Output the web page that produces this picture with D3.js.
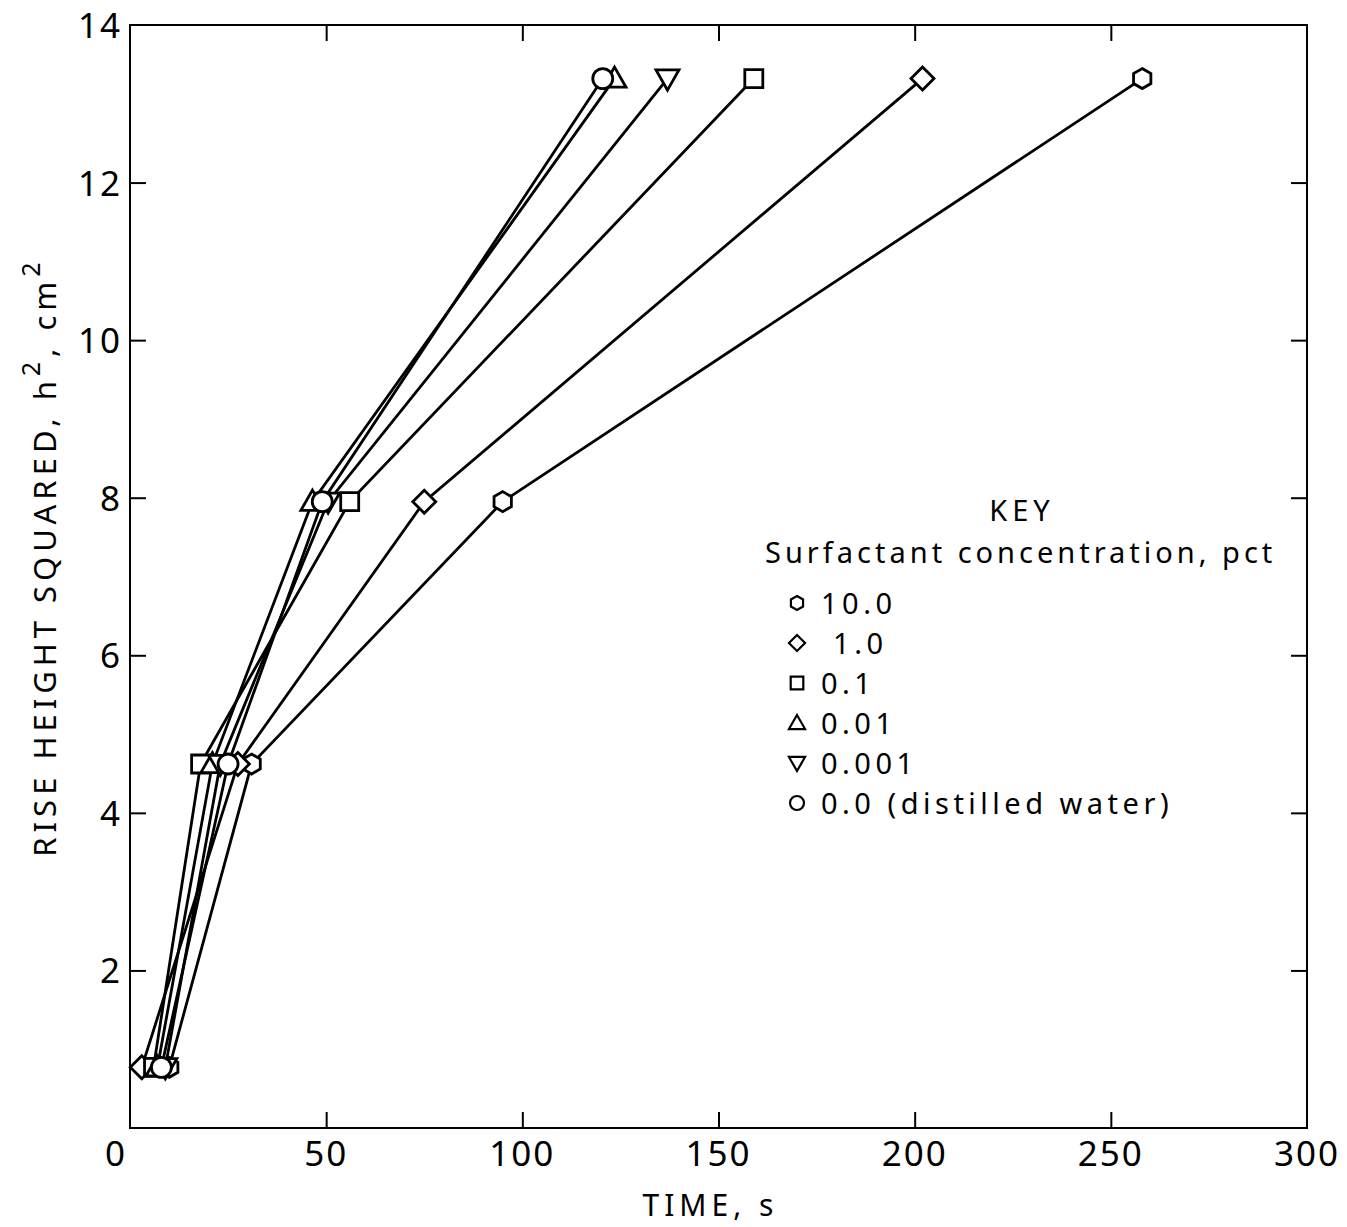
<!DOCTYPE html>
<html>
<head>
<meta charset="utf-8">
<script src="https://cdn.jsdelivr.net/npm/d3@7"></script>
<style>
  body { margin: 0; background: #fff; }
  text { font-family: "Noto Sans", "DejaVu Sans", sans-serif; fill: #000; }
</style>
</head>
<body>
<svg id="chart" width="1347" height="1227"></svg>
<script>
// rise height squared levels, cm^2
const heights = [0.77, 4.62, 7.95, 13.32];

// time to reach each height, s (one array per surfactant concentration)
const series = [
  { name: "10.0", symbol: "hexagon", times: [10, 31, 95, 258] },
  { name: " 1.0", symbol: "diamond", times: [3, 27.5, 75, 202] },
  { name: "0.1", symbol: "square", times: [6, 18, 56, 159] },
  { name: "0.01", symbol: "triangle", times: [7, 21, 46.5, 123.5] },
  { name: "0.001", symbol: "invtriangle", times: [9, 23, 50.5, 137] },
  { name: "0.0 (distilled water)", symbol: "circle", times: [8, 25, 49, 120.5] }
];

const xTicks = [0, 50, 100, 150, 200, 250, 300];
const yTicks = [2, 4, 6, 8, 10, 12, 14];

const svg = d3.select("#chart");
const mLeft = 130, mRight = 1307, mTop = 25, mBottom = 1128;

const x = d3.scaleLinear().domain([0, 300]).range([mLeft, mRight]);
const y = d3.scaleLinear().domain([0, 14]).range([mBottom, mTop]);

// frame
svg.append("rect")
  .attr("x", mLeft).attr("y", mTop)
  .attr("width", mRight - mLeft).attr("height", mBottom - mTop)
  .attr("fill", "none").attr("stroke", "#000").attr("stroke-width", 2);

// inward ticks on all four sides
const tickLen = 16;
svg.append("g").attr("transform", `translate(0,${mBottom})`)
  .call(d3.axisTop(x).tickValues(xTicks.slice(1, -1)).tickSize(tickLen).tickFormat(""))
  .call(g => g.select(".domain").remove());
svg.append("g").attr("transform", `translate(0,${mTop})`)
  .call(d3.axisBottom(x).tickValues(xTicks.slice(1, -1)).tickSize(tickLen).tickFormat(""))
  .call(g => g.select(".domain").remove());
svg.append("g").attr("transform", `translate(${mLeft},0)`)
  .call(d3.axisRight(y).tickValues(yTicks.slice(0, -1)).tickSize(tickLen).tickFormat(""))
  .call(g => g.select(".domain").remove());
svg.append("g").attr("transform", `translate(${mRight},0)`)
  .call(d3.axisLeft(y).tickValues(yTicks.slice(0, -1)).tickSize(tickLen).tickFormat(""))
  .call(g => g.select(".domain").remove());
svg.selectAll(".tick line").attr("stroke", "#000").attr("stroke-width", 2);

// tick labels
svg.append("g").selectAll("text").data(xTicks).join("text")
  .attr("x", d => d === 0 ? x(d) - 14 : x(d))
  .attr("y", mBottom + 38)
  .attr("text-anchor", "middle")
  .attr("font-size", 35)
  .attr("letter-spacing", 2)
  .text(d => d);
svg.append("g").selectAll("text").data(yTicks).join("text")
  .attr("x", mLeft - 8)
  .attr("y", d => y(d) + 13)
  .attr("text-anchor", "end")
  .attr("font-size", 35)
  .attr("letter-spacing", 2)
  .text(d => d);

// axis titles
svg.append("text")
  .attr("x", (mLeft + mRight) / 2 - 8).attr("y", 1216)
  .attr("text-anchor", "middle").attr("font-size", 30)
  .attr("letter-spacing", 5)
  .text("TIME, s");

const yTitle = svg.append("text")
  .attr("transform", `translate(56,557) rotate(-90)`)
  .attr("text-anchor", "middle").attr("font-size", 31)
  .attr("letter-spacing", 5);
yTitle.append("tspan").text("RISE HEIGHT SQUARED, h");
yTitle.append("tspan").attr("dy", -16).attr("font-size", 25).text("2");
yTitle.append("tspan").attr("dy", 16).text(", cm");
yTitle.append("tspan").attr("dy", -16).attr("font-size", 25).text("2");

// marker shapes
function markerPath(sym, r) {
  if (sym === "circle") return d3.symbol(d3.symbolCircle, Math.PI * r * r)();
  if (sym === "square") {
    const s = r * 0.9;
    return `M${-s},${-s}H${s}V${s}H${-s}Z`;
  }
  if (sym === "diamond") {
    const s = r * 1.15;
    return `M0,${-s}L${s},0L0,${s}L${-s},0Z`;
  }
  if (sym === "triangle") {
    const s = r * 1.15;
    return `M0,${-s}L${s},${s * 0.75}L${-s},${s * 0.75}Z`;
  }
  if (sym === "invtriangle") {
    const s = r * 1.15;
    return `M0,${s}L${s},${-s * 0.75}L${-s},${-s * 0.75}Z`;
  }
  // hexagon
  const pts = d3.range(6).map(i => {
    const a = Math.PI / 3 * i - Math.PI / 2;
    return [r * Math.cos(a), r * Math.sin(a)];
  });
  return "M" + pts.map(p => p.join(",")).join("L") + "Z";
}

const line = d3.line().x(d => x(d[0])).y(d => y(d[1]));

series.forEach(s => {
  const pts = s.times.map((t, i) => [t, heights[i]]);
  svg.append("path")
    .attr("d", line(pts))
    .attr("fill", "none").attr("stroke", "#000").attr("stroke-width", 2.8);
});
series.forEach(s => {
  const pts = s.times.map((t, i) => [t, heights[i]]);
  svg.append("g").selectAll("path").data(pts).join("path")
    .attr("transform", d => `translate(${x(d[0])},${y(d[1])})`)
    .attr("d", markerPath(s.symbol, 10))
    .attr("fill", "#fff").attr("stroke", "#000").attr("stroke-width", 2.8);
});

// key
svg.append("text").attr("x", 1022).attr("y", 521)
  .attr("text-anchor", "middle").attr("font-size", 29).attr("letter-spacing", 5)
  .text("KEY");
svg.append("text").attr("x", 765).attr("y", 563)
  .attr("font-size", 29).attr("letter-spacing", 4)
  .text("Surfactant concentration, pct");

const key = svg.append("g").selectAll("g").data(series).join("g")
  .attr("transform", (d, i) => `translate(797,${603 + i * 40})`);
key.append("path")
  .attr("d", d => markerPath(d.symbol, 7))
  .attr("fill", "#fff").attr("stroke", "#000").attr("stroke-width", 2.2);
key.append("text")
  .attr("x", 24).attr("y", 11)
  .attr("font-size", 29)
  .attr("letter-spacing", 4.5)
  .style("white-space", "pre")
  .text(d => d.name);
</script>
</body>
</html>
